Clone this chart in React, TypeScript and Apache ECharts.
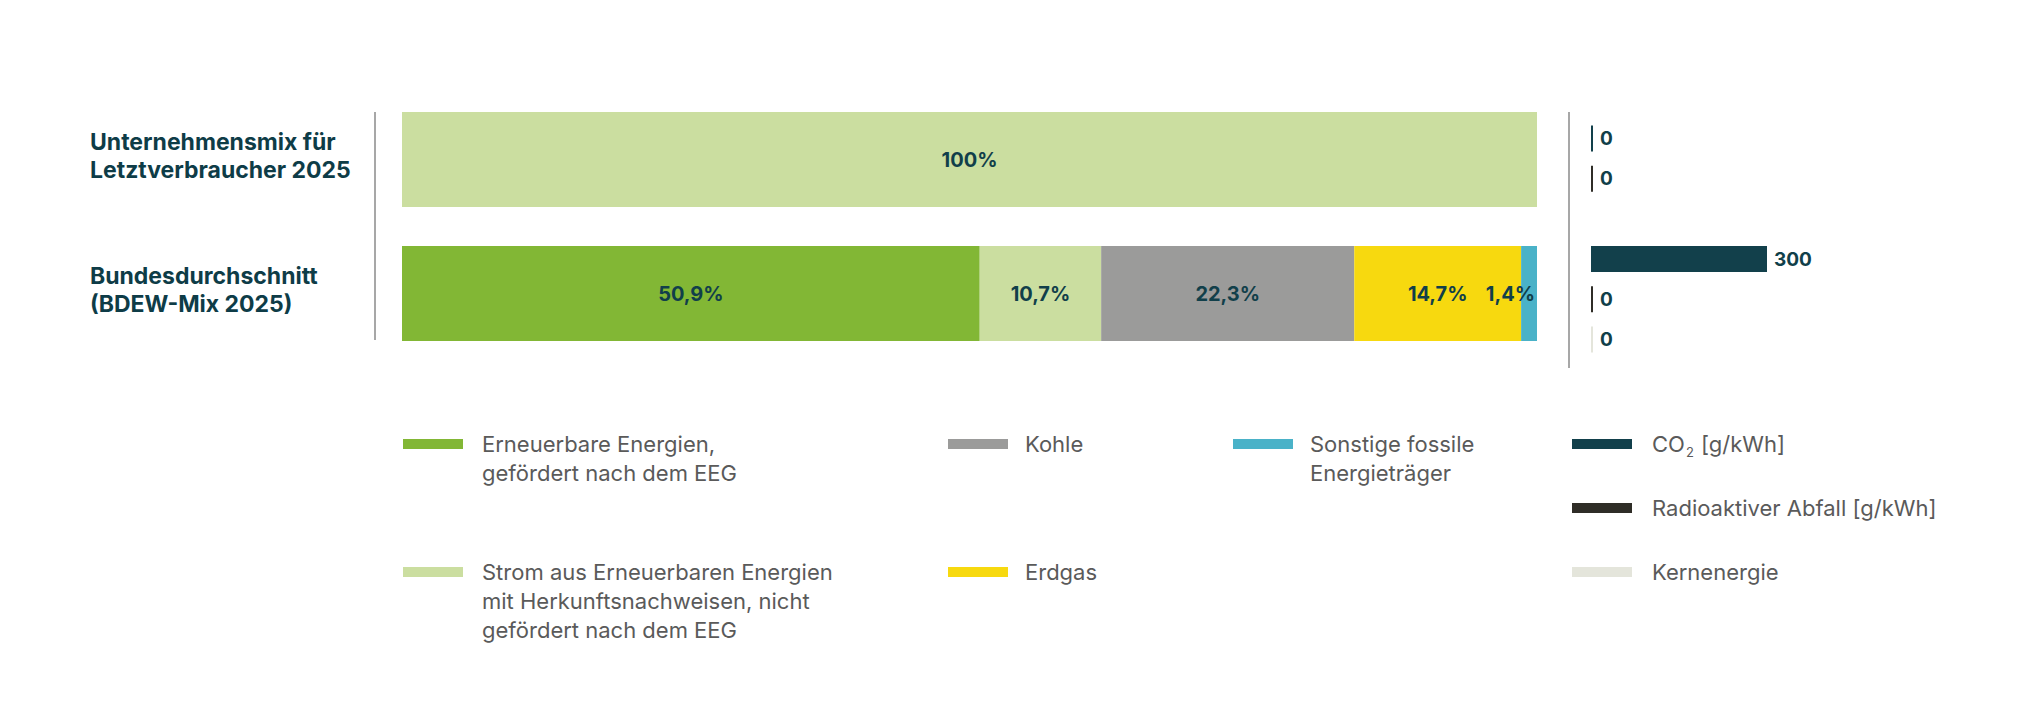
import React, { useEffect, useRef } from "react";
import * as echarts from "echarts";

// ---------- data ----------
const categories = [
  "Unternehmensmix für\nLetztverbraucher 2025",
  "Bundesdurchschnitt\n(BDEW-Mix 2025)",
];

const eegShares = [0, 50.9];
const hknShares = [100, 10.7];
const coalShares = [0, 22.3];
const gasShares = [0, 14.7];
const otherFossilShares = [0, 1.4];

const co2Values = [0, 300];
const wasteValues = [0, 0];
const nuclearValues: (number | null)[] = [null, 0];

const impactSlots = [
  "Unternehmensmix CO2",
  "Unternehmensmix Abfall",
  "Unternehmensmix Kernenergie",
  "Bundesdurchschnitt CO2",
  "Bundesdurchschnitt Abfall",
  "Bundesdurchschnitt Kernenergie",
];

const N_EEG = "Erneuerbare Energien, gefördert nach dem EEG";
const N_HKN = "Strom aus Erneuerbaren Energien mit Herkunftsnachweisen, nicht gefördert nach dem EEG";
const N_COAL = "Kohle";
const N_GAS = "Erdgas";
const N_OTHER = "Sonstige fossile Energieträger";
const N_CO2 = "CO2 [g/kWh]";
const N_WASTE = "Radioaktiver Abfall [g/kWh]";
const N_NUC = "Kernenergie";

const legendTexts: Record<string, string> = {
  [N_EEG]: "Erneuerbare Energien,\ngefördert nach dem EEG",
  [N_HKN]: "Strom aus Erneuerbaren Energien\nmit Herkunftsnachweisen, nicht\ngefördert nach dem EEG",
  [N_COAL]: "Kohle",
  [N_GAS]: "Erdgas",
  [N_OTHER]: "Sonstige fossile\nEnergieträger",
  [N_CO2]: "CO{sub|2} [g/kWh]",
  [N_WASTE]: "Radioaktiver Abfall [g/kWh]",
  [N_NUC]: "Kernenergie",
};

// ---------- styles ----------
const FONT = 'Inter, "Noto Sans", sans-serif';
const DARK = "#113F4A";
const LEGEND_TEXT = "#5A5A5A";
const COLORS: Record<string, string> = {
  [N_EEG]: "#82B735",
  [N_HKN]: "#CBDEA0",
  [N_COAL]: "#9B9B9A",
  [N_GAS]: "#F7D90F",
  [N_OTHER]: "#4AB2C8",
  [N_CO2]: "#12404B",
  [N_WASTE]: "#2F2D27",
  [N_NUC]: "#E4E5DB",
};

const fmt = (v: number) => String(v).replace(".", ",");

export default function App() {
  const ref = useRef<HTMLDivElement>(null);

  useEffect(() => {
    if (!ref.current) return;
    const chart = echarts.init(ref.current, undefined, { renderer: "svg" });

    const mixSeries = [
      [N_EEG, eegShares],
      [N_HKN, hknShares],
      [N_COAL, coalShares],
      [N_GAS, gasShares],
      [N_OTHER, otherFossilShares],
    ].map(([name, values]) => ({
      name: name as string,
      type: "bar",
      stack: "mix",
      xAxisIndex: 0,
      yAxisIndex: 0,
      barWidth: 95,
      data: values as number[],
      itemStyle: { color: COLORS[name as string] },
      label: {
        show: true,
        position: name === N_OTHER ? "insideRight" : "inside",
        distance: 2,
        formatter: (p: any) => (p.value ? `${fmt(p.value)}%` : ""),
        color: DARK,
        fontSize: 20,
        fontWeight: "bold",
        fontFamily: FONT,
      },
      emphasis: { disabled: true },
    }));

    const slotData = (values: (number | null)[], offset: number) =>
      impactSlots.map((_, i) => {
        if (i % 3 !== offset) return "-";
        const v = values[Math.floor(i / 3)];
        return v === null || v === undefined ? "-" : v;
      });

    const impactSeries = [
      [N_CO2, co2Values, 0],
      [N_WASTE, wasteValues, 1],
      [N_NUC, nuclearValues, 2],
    ].map(([name, values, offset]) => ({
      name: name as string,
      type: "bar",
      xAxisIndex: 1,
      yAxisIndex: 1,
      barWidth: 26,
      barGap: "-100%",
      barMinHeight: 2,
      data: slotData(values as (number | null)[], offset as number),
      itemStyle: { color: COLORS[name as string] },
      label: {
        show: true,
        position: "right",
        distance: 7,
        formatter: "{c}",
        color: DARK,
        fontSize: 19,
        fontWeight: "bold",
        fontFamily: FONT,
      },
      emphasis: { disabled: true },
    }));

    const rowIconTop = [441, 505, 569];
    const legendLayout = [
      { name: N_EEG, left: 403, row: 0, lines: 2, gap: 14 },
      { name: N_HKN, left: 403, row: 2, lines: 3, gap: 14 },
      { name: N_COAL, left: 948, row: 0, lines: 1, gap: 12 },
      { name: N_GAS, left: 948, row: 2, lines: 1, gap: 12 },
      { name: N_OTHER, left: 1233, row: 0, lines: 2, gap: 12 },
      { name: N_CO2, left: 1572, row: 0, lines: 1, gap: 15 },
      { name: N_WASTE, left: 1572, row: 1, lines: 1, gap: 15 },
      { name: N_NUC, left: 1572, row: 2, lines: 1, gap: 15 },
    ];
    const LH = 29;
    const ICON_H = 10;

    const legend = legendLayout.map((l) => {
      const boxH = (2 * l.lines - 1) * LH;
      const above = Math.max(0, boxH / 2 - ICON_H / 2);
      return {
        data: [l.name],
        left: l.left,
        top: rowIconTop[l.row] - above - 2,
        padding: 0,
        selectedMode: false,
        icon: "rect",
        itemWidth: 60,
        itemHeight: ICON_H,
        formatter: (name: string) => legendTexts[name],
        textStyle: {
          fontFamily: FONT,
          fontSize: 22,
          lineHeight: LH,
          color: LEGEND_TEXT,
          padding: [(l.lines - 1) * LH, 0, 0, l.gap],
          rich: {
            sub: {
              fontFamily: FONT,
              fontSize: 13,
              lineHeight: 13,
              verticalAlign: "bottom",
              color: LEGEND_TEXT,
              padding: [0, 1, 0, 1],
            },
          },
        },
      };
    });

    chart.setOption({
      animation: false,
      backgroundColor: "#ffffff",
      legend,
      grid: [
        { left: 402, width: 1135, top: 92.5, height: 268, containLabel: false },
        { left: 1591, width: 352, top: 118.5, height: 241, containLabel: false },
      ],
      xAxis: [
        { type: "value", gridIndex: 0, min: 0, max: 100, show: false },
        { type: "value", gridIndex: 1, min: 0, max: 600, show: false },
      ],
      yAxis: [
        {
          type: "category",
          gridIndex: 0,
          data: categories,
          inverse: true,
          axisLine: { show: false },
          axisTick: { show: false },
          splitLine: { show: false },
          axisLabel: {
            show: true,
            align: "left",
            margin: 312,
            color: "#0E3C47",
            fontSize: 23,
            fontWeight: "bold",
            lineHeight: 28,
            fontFamily: FONT,
            formatter: (v: string) => `${v}\n{gap|}`,
            rich: {
              gap: { lineHeight: 8, height: 8, fontSize: 8 },
            },
          },
        },
        {
          type: "category",
          gridIndex: 1,
          data: impactSlots,
          inverse: true,
          show: false,
        },
      ],
      graphic: [
        {
          type: "line",
          shape: { x1: 375, y1: 112, x2: 375, y2: 340 },
          style: { stroke: "#8A8A8A", lineWidth: 1.5 },
          silent: true,
        },
        {
          type: "line",
          shape: { x1: 1569, y1: 112, x2: 1569, y2: 368 },
          style: { stroke: "#8A8A8A", lineWidth: 1.5 },
          silent: true,
        },
      ],
      series: [...mixSeries, ...impactSeries],
    });

    return () => chart.dispose();
  }, []);

  return (
    <div
      ref={ref}
      style={{ position: "absolute", left: 0, top: 0, width: 2040, height: 728, background: "#fff" }}
    />
  );
}
